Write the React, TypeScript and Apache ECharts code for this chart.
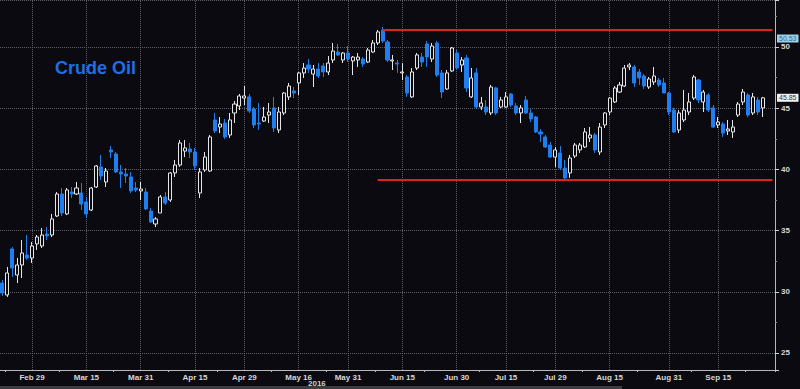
import React, { useEffect, useRef } from "react";
import * as echarts from "echarts";

// Trading days shown on the chart (month, days)
const tradingDays: [string, number[]][] = [
  ["Feb", [19, 22, 23, 24, 25, 26, 29]],
  ["Mar", [1, 2, 3, 4, 7, 8, 9, 10, 11, 14, 15, 16, 17, 18, 21, 22, 23, 24, 28, 29, 30, 31]],
  ["Apr", [1, 4, 5, 6, 7, 8, 11, 12, 13, 14, 15, 18, 19, 20, 21, 22, 25, 26, 27, 28, 29]],
  ["May", [2, 3, 4, 5, 6, 9, 10, 11, 12, 13, 16, 17, 18, 19, 20, 23, 24, 25, 26, 27, 31]],
  ["Jun", [1, 2, 3, 6, 7, 8, 9, 10, 13, 14, 15, 16, 17, 20, 21, 22, 23, 24, 27, 28, 29, 30]],
  ["Jul", [1, 5, 6, 7, 8, 11, 12, 13, 14, 15, 18, 19, 20, 21, 22, 25, 26, 27, 28, 29]],
  ["Aug", [1, 2, 3, 4, 5, 8, 9, 10, 11, 12, 15, 16, 17, 18, 19, 22, 23, 24, 25, 26, 29, 30, 31]],
  ["Sep", [1, 2, 6, 7, 8, 9, 12, 13, 14, 15, 16, 19, 20, 21, 22, 23, 26, 27, 28, 29, 30]],
];

const labelDates = [
  "Feb 29", "Mar 15", "Mar 31", "Apr 15", "Apr 29", "May 16", "May 31",
  "Jun 15", "Jun 30", "Jul 15", "Jul 29", "Aug 15", "Aug 31", "Sep 15",
];

const minorTickDates = [
  "Feb 22", "Mar 8", "Mar 23", "Apr 8", "Apr 22", "May 9", "May 24", "Jun 8",
  "Jun 22", "Jul 8", "Jul 25", "Aug 8", "Aug 23", "Sep 8", "Sep 23",
];

// [open, close, low, high]
const ohlc: number[][] = [
  [30.72, 29.9, 29.66, 30.96],
  [29.74, 31.54, 29.58, 32.03],
  [33.5, 31.94, 31.21, 33.66],
  [31.37, 32.19, 30.72, 32.76],
  [32.19, 33.17, 31.13, 34.23],
  [33.01, 32.76, 32.6, 34.64],
  [32.76, 33.74, 32.35, 34.07],
  [33.91, 34.48, 33.42, 34.64],
  [33.74, 34.64, 33.58, 35.21],
  [34.72, 34.56, 34.23, 35.29],
  [34.64, 35.95, 34.48, 36.36],
  [36.19, 37.99, 36.11, 38.15],
  [37.99, 36.44, 36.19, 38.48],
  [36.36, 38.32, 36.27, 38.48],
  [38.15, 37.99, 37.66, 38.56],
  [37.99, 38.48, 37.91, 38.97],
  [38.07, 37.17, 36.68, 38.89],
  [37.34, 36.36, 36.03, 37.75],
  [36.68, 38.48, 36.6, 38.56],
  [38.56, 40.28, 38.48, 40.36],
  [40.2, 39.46, 39.13, 41.18],
  [38.97, 39.87, 38.56, 40.11],
  [41.59, 41.42, 40.93, 41.91],
  [41.26, 39.79, 39.71, 41.42],
  [39.79, 39.62, 38.48, 40.36],
  [39.62, 39.46, 38.89, 40.11],
  [39.38, 38.24, 38.07, 39.79],
  [38.48, 38.32, 38.15, 38.97],
  [38.24, 38.4, 37.5, 38.97],
  [38.15, 36.77, 36.68, 38.48],
  [36.6, 35.7, 35.62, 36.85],
  [35.54, 35.95, 35.29, 36.11],
  [36.44, 37.75, 36.44, 37.91],
  [37.75, 37.25, 37.09, 38.15],
  [37.5, 39.71, 37.34, 39.79],
  [39.71, 40.36, 39.38, 40.77],
  [40.36, 42.16, 40.2, 42.4],
  [41.5, 41.75, 41.01, 42.4],
  [41.67, 41.42, 40.93, 42.16],
  [41.42, 40.28, 39.95, 41.75],
  [38.07, 39.79, 37.66, 40.11],
  [39.95, 41.01, 39.79, 41.42],
  [39.87, 42.65, 39.79, 42.81],
  [44.04, 43.14, 42.97, 44.61],
  [43.46, 43.71, 42.97, 44.28],
  [43.79, 42.65, 42.48, 44.12],
  [42.81, 44.04, 42.57, 44.61],
  [44.61, 45.34, 43.79, 45.59],
  [45.18, 46.0, 44.85, 46.16],
  [45.83, 46.0, 45.26, 46.81],
  [45.92, 44.77, 44.61, 46.16],
  [44.93, 43.63, 43.38, 45.1],
  [43.79, 43.71, 43.22, 45.42],
  [43.95, 44.28, 43.87, 45.1],
  [44.44, 44.69, 43.79, 45.42],
  [45.02, 43.38, 43.06, 45.92],
  [43.22, 44.69, 42.97, 45.1],
  [44.61, 46.24, 44.44, 46.32],
  [45.92, 46.81, 45.67, 47.06],
  [46.41, 46.24, 45.83, 46.73],
  [47.06, 47.88, 46.08, 47.96],
  [47.88, 48.28, 47.47, 48.69],
  [48.53, 48.2, 47.88, 49.02],
  [47.79, 48.2, 46.73, 48.53],
  [48.2, 47.63, 47.47, 48.69],
  [48.45, 47.96, 47.55, 48.69],
  [47.96, 48.69, 47.71, 49.26],
  [48.94, 49.67, 48.69, 50.33],
  [49.59, 49.35, 49.26, 50.25],
  [48.94, 49.51, 48.69, 49.59],
  [49.51, 49.02, 48.77, 50.08],
  [48.86, 49.18, 47.71, 49.26],
  [48.94, 49.18, 48.37, 49.51],
  [49.02, 48.61, 48.37, 49.18],
  [48.77, 49.75, 48.69, 49.92],
  [49.59, 50.33, 49.51, 50.57],
  [50.33, 51.23, 50.16, 51.39],
  [51.39, 50.49, 50.33, 51.63],
  [50.41, 48.94, 48.77, 50.57],
  [48.86, 48.94, 48.12, 49.35],
  [48.69, 48.61, 47.88, 48.94],
  [47.88, 47.96, 47.3, 48.69],
  [47.55, 46.24, 45.92, 47.71],
  [45.92, 47.96, 45.83, 48.28],
  [48.28, 49.35, 48.12, 49.51],
  [49.18, 48.77, 48.37, 49.51],
  [50.25, 49.18, 48.37, 50.49],
  [49.02, 50.08, 48.77, 50.33],
  [50.33, 47.71, 47.55, 50.49],
  [47.88, 46.32, 45.83, 48.12],
  [46.57, 47.88, 46.49, 48.12],
  [48.04, 49.92, 47.96, 50.0],
  [49.51, 48.28, 48.12, 49.75],
  [48.53, 48.94, 47.96, 49.18],
  [49.1, 46.65, 46.32, 49.35],
  [45.92, 47.47, 45.83, 48.28],
  [47.88, 45.1, 44.93, 48.28],
  [45.1, 45.42, 44.85, 45.92],
  [45.1, 44.69, 44.44, 45.67],
  [44.61, 46.73, 44.44, 46.9],
  [46.65, 44.61, 44.44, 46.73],
  [45.1, 45.67, 45.02, 45.92],
  [45.1, 45.92, 45.02, 46.32],
  [46.16, 45.26, 45.1, 46.24],
  [45.18, 44.61, 44.44, 45.42],
  [44.61, 45.02, 43.79, 45.26],
  [45.67, 44.61, 44.53, 46.0],
  [44.61, 44.12, 43.87, 44.93],
  [44.28, 43.06, 42.97, 44.36],
  [43.06, 42.89, 42.24, 43.3],
  [42.65, 41.83, 41.75, 42.81],
  [41.99, 41.01, 40.93, 42.24],
  [41.01, 41.59, 40.2, 41.83],
  [41.34, 40.11, 39.95, 41.91],
  [40.11, 39.3, 39.13, 40.77],
  [39.71, 40.93, 39.3, 41.18],
  [41.09, 41.99, 40.93, 42.16],
  [41.59, 41.99, 41.34, 42.16],
  [41.83, 43.06, 41.75, 43.38],
  [42.57, 42.81, 42.24, 43.46],
  [42.81, 41.59, 41.34, 42.97],
  [41.42, 43.46, 41.18, 43.79],
  [43.63, 44.61, 43.38, 44.69],
  [44.69, 45.83, 44.44, 45.92],
  [45.51, 46.65, 45.42, 46.81],
  [46.32, 46.9, 46.24, 47.14],
  [46.81, 48.28, 46.73, 48.53],
  [48.37, 48.53, 48.12, 48.69],
  [48.37, 47.06, 46.73, 48.53],
  [47.96, 47.47, 46.9, 48.2],
  [47.63, 46.81, 46.57, 47.79],
  [46.73, 47.39, 46.57, 47.55],
  [47.14, 47.63, 46.9, 48.37],
  [47.3, 46.9, 46.73, 47.47],
  [47.06, 46.24, 46.24, 47.47],
  [46.24, 44.69, 44.44, 46.32],
  [44.85, 43.06, 42.97, 45.02],
  [43.22, 44.61, 42.97, 44.85],
  [44.04, 44.85, 43.87, 46.49],
  [44.69, 45.51, 44.44, 46.24],
  [45.83, 47.55, 45.67, 47.71],
  [47.3, 45.67, 45.42, 47.39],
  [45.51, 46.32, 44.69, 46.49],
  [46.08, 44.85, 44.69, 46.24],
  [45.02, 43.46, 43.38, 45.26],
  [43.63, 43.87, 43.38, 44.28],
  [43.71, 42.97, 42.65, 43.87],
  [43.14, 43.3, 42.81, 44.04],
  [43.06, 43.46, 42.57, 44.04],
  [44.44, 45.34, 44.28, 45.51],
  [45.51, 46.32, 45.26, 46.57],
  [46.08, 44.44, 44.28, 46.24],
  [44.61, 45.92, 44.44, 46.24],
  [45.67, 44.69, 44.44, 45.92],
  [45.02, 45.85, 44.28, 45.92],
];

// Horizontal resistance / support lines (start date, level)
const resistance = { from: "Jun 9", level: 51.45 };
const support = { from: "Jun 8", level: 39.19 };
const lastPrice = 45.85;
const markerPrice = 50.53;

const yTicks = { min: 23.61, max: 53.84, step: 5 };

const BG = "#0a0a10";
const BLUE = "#1f7ff0";
const GRID = "#5e5e66";
const FONT = "'Liberation Sans Narrow', 'Arial Narrow', 'Liberation Sans', sans-serif";

export default function App() {
  const ref = useRef<HTMLDivElement>(null);

  useEffect(() => {
    document.body.style.margin = "0";
    document.body.style.background = BG;
    const chart = echarts.init(ref.current!, null, { renderer: "svg" });
    const categories = tradingDays.flatMap(([m, ds]) => ds.map((d) => `${m} ${d}`));
    const lastCat = categories[categories.length - 1];
    const labelSet = new Set(labelDates);
    const tickSet = new Set(minorTickDates);

    const priceLabel = (bg: string, fg: string, dy: number) => ({
      show: true,
      position: "end",
      distance: 2,
      offset: [0, dy],
      formatter: (p: any) => Number(p.value).toFixed(2),
      backgroundColor: bg,
      color: fg,
      fontSize: 7,
      lineHeight: 8,
      fontFamily: FONT,
      padding: [0, 2],
      opacity: 1,
    });

    const option: any = {
      animation: false,
      backgroundColor: BG,
      grid: { left: 0, right: 25, top: 0, bottom: 19, containLabel: false },
      xAxis: {
        type: "category",
        data: categories,
        boundaryGap: true,
        axisLine: { show: true, lineStyle: { color: "#b8b8b8", width: 1 } },
        axisTick: {
          show: true,
          interval: (_i: number, v: string) => tickSet.has(v),
          length: 2,
          lineStyle: { color: "#b8b8b8" },
        },
        axisLabel: {
          interval: (_i: number, v: string) => labelSet.has(v),
          color: "#d8d8d8",
          fontSize: 8,
          fontWeight: "bold",
          fontFamily: FONT,
          margin: 3,
        },
        splitLine: { show: false },
      },
      yAxis: {
        type: "value",
        position: "right",
        min: yTicks.min,
        max: yTicks.max,
        minInterval: yTicks.step,
        maxInterval: yTicks.step,
        splitNumber: 6,
        axisLine: { show: true, lineStyle: { color: "#b8b8b8" } },
        axisTick: { show: true, length: 4, lineStyle: { color: "#d0d0d0" } },
        minorTick: { show: true, splitNumber: 2, length: 2, lineStyle: { color: "#888" } },
        axisLabel: {
          color: "#d8d8d8",
          fontSize: 8,
          lineHeight: 8,
          fontWeight: "bold",
          fontFamily: FONT,
          margin: 6,
          showMinLabel: false,
          showMaxLabel: false,
        },
        splitLine: { show: true, lineStyle: { color: GRID, type: [1, 1], width: 1 } },
      },
      series: [
        {
          type: "candlestick",
          data: ohlc,
          barWidth: "72%",
          itemStyle: {
            color: BG,
            color0: BLUE,
            borderColor: "#e6e6e6",
            borderColor0: BLUE,
            borderWidth: 1,
          },
          markLine: {
            z: 1,
            silent: true,
            symbol: "none",
            label: { show: false },
            lineStyle: { color: GRID, type: [1, 1], width: 1 },
            emphasis: { disabled: true },
            data: labelDates.map((d) => ({ xAxis: d })),
          },
        },
        {
          type: "line",
          data: [],
          markLine: {
            z: 5,
            silent: true,
            symbol: "none",
            emphasis: { disabled: true },
            label: { show: false },
            data: [
              [
                { coord: [resistance.from, resistance.level], lineStyle: { color: "#dd2222", width: 2, type: "solid" } },
                { coord: [lastCat, resistance.level] },
              ],
              [
                { coord: [support.from, support.level], lineStyle: { color: "#dd2222", width: 2, type: "solid" } },
                { coord: [lastCat, support.level] },
              ],
              {
                yAxis: markerPrice,
                lineStyle: { color: "rgba(0,0,0,0)", width: 0 },
                label: priceLabel("#9fd0e8", "#2f6f95", -2),
              },
              {
                yAxis: lastPrice,
                lineStyle: { color: "rgba(0,0,0,0)", width: 0 },
                label: priceLabel("#f0f0f0", "#333333", 0),
              },
            ],
          },
        },
      ],
      graphic: [
        {
          type: "text",
          left: 55,
          top: 59,
          style: {
            text: "Crude Oil",
            fill: "#1f6fe6",
            font: "bold 18px 'Liberation Sans', Arial, sans-serif",
          },
        },
        {
          type: "text",
          left: 308,
          top: 379,
          style: { text: "2016", fill: "#d0d0d0", font: `bold 8px ${FONT}` },
        },
        {
          type: "rect",
          left: 0,
          top: 386,
          shape: { width: 622, height: 3 },
          style: { fill: "#3d3d3d" },
        },
      ],
    };

    chart.setOption(option);
    return () => chart.dispose();
  }, []);

  return <div ref={ref} style={{ width: 800, height: 389 }} />;
}
